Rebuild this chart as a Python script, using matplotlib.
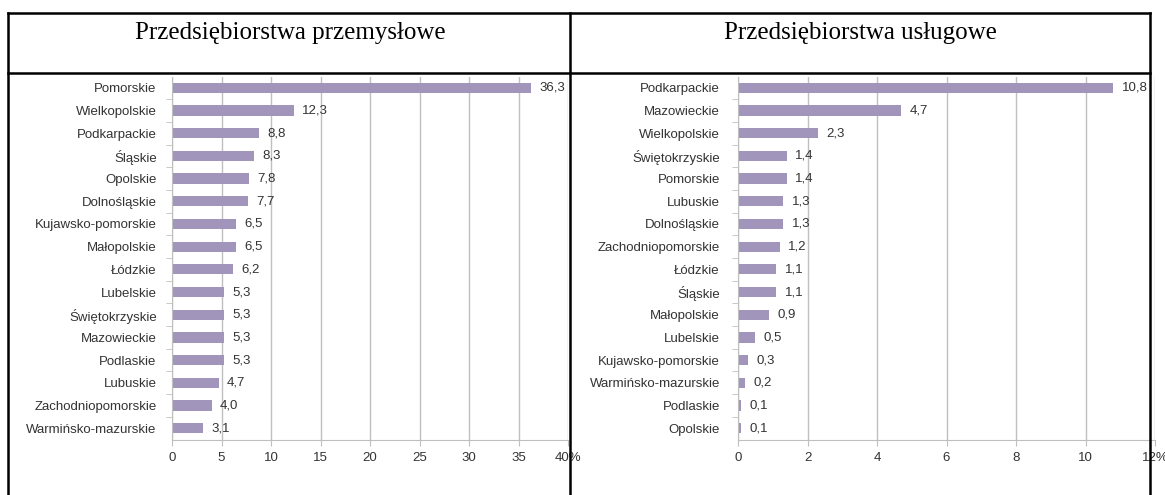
import matplotlib.pyplot as plt
from matplotlib.lines import Line2D

W, H = 1165, 495

# industrial enterprises
prz_regions = ['Pomorskie', 'Wielkopolskie', 'Podkarpackie', 'Śląskie', 'Opolskie',
               'Dolnośląskie', 'Kujawsko-pomorskie', 'Małopolskie', 'Łódzkie', 'Lubelskie',
               'Świętokrzyskie', 'Mazowieckie', 'Podlaskie', 'Lubuskie',
               'Zachodniopomorskie', 'Warmińsko-mazurskie']
prz_values = [36.3, 12.3, 8.8, 8.3, 7.8, 7.7, 6.5, 6.5, 6.2, 5.3, 5.3, 5.3, 5.3, 4.7, 4.0, 3.1]
prz_ticks = [0, 5, 10, 15, 20, 25, 30, 35, 40]

# service enterprises
usl_regions = ['Podkarpackie', 'Mazowieckie', 'Wielkopolskie', 'Świętokrzyskie', 'Pomorskie',
               'Lubuskie', 'Dolnośląskie', 'Zachodniopomorskie', 'Łódzkie', 'Śląskie',
               'Małopolskie', 'Lubelskie', 'Kujawsko-pomorskie', 'Warmińsko-mazurskie',
               'Podlaskie', 'Opolskie']
usl_values = [10.8, 4.7, 2.3, 1.4, 1.4, 1.3, 1.3, 1.2, 1.1, 1.1, 0.9, 0.5, 0.3, 0.2, 0.1, 0.1]
usl_ticks = [0, 2, 4, 6, 8, 10, 12]

titles = ['Przedsiębiorstwa przemysłowe', 'Przedsiębiorstwa usługowe']

BAR = '#a295bc'
GRID = '#bfbfbf'
TXT = '#333333'

plt.rcParams['font.family'] = ['Liberation Sans', 'DejaVu Sans']

fig = plt.figure(figsize=(W / 100, H / 100), dpi=100)


def px(x0, y0, x1, y1):
    return [x0 / W, 1 - y1 / H, (x1 - x0) / W, (y1 - y0) / H]


def draw_panel(rect, regions, values, ticks, ypad):
    ax = fig.add_axes(rect)
    pos = list(range(len(regions)))
    ax.barh(pos, values, height=0.45, color=BAR, zorder=2)
    ax.set_ylim(len(regions) - 0.5, -0.5)
    ax.set_xlim(ticks[0], ticks[-1])
    ax.set_yticks(pos)
    ax.set_yticklabels(regions)
    ax.set_yticks([p + 0.5 for p in pos[:-1]], minor=True)
    ax.set_xticks(ticks)
    ax.set_xticklabels([str(t) for t in ticks[:-1]] + [f'{ticks[-1]}%'])
    ax.grid(axis='x', color=GRID, linewidth=1, zorder=0)
    for s in ['top', 'right']:
        ax.spines[s].set_visible(False)
    for s in ['left', 'bottom']:
        ax.spines[s].set_color(GRID)
    ax.tick_params(axis='x', length=4, color=GRID, labelsize=9.5, labelcolor=TXT, pad=5)
    ax.tick_params(axis='y', which='major', length=0, labelsize=9.5, labelcolor=TXT, pad=ypad)
    ax.tick_params(axis='y', which='minor', length=4, color=GRID)
    for p, v in zip(pos, values):
        ax.annotate(f'{v:.1f}'.replace('.', ','), (v, p), xytext=(6, 0),
                    textcoords='offset points', va='center', ha='left',
                    fontsize=9.5, color=TXT)
    return ax


draw_panel(px(172, 76.5, 568, 439.5), prz_regions, prz_values, prz_ticks, 11)
draw_panel(px(738, 76.5, 1155, 439.5), usl_regions, usl_values, usl_ticks, 13)

# table borders
def hline(y, x0, x1):
    fig.add_artist(Line2D([x0 / W, x1 / W], [1 - y / H, 1 - y / H], color='black',
                          linewidth=1.8, zorder=10))


def vline(x, y0, y1):
    fig.add_artist(Line2D([x / W, x / W], [1 - y0 / H, 1 - y1 / H], color='black',
                          linewidth=1.8, zorder=10))


hline(13, 8, 1150)
hline(73, 8, 1150)
vline(8, 13, 495)
vline(570, 13, 495)
vline(1150, 13, 495)

fig.text(290 / W, 1 - 33 / H, titles[0], ha='center', va='center', fontsize=18,
         family=['Liberation Serif', 'DejaVu Serif'], color='black')
fig.text(860 / W, 1 - 33 / H, titles[1], ha='center', va='center', fontsize=18,
         family=['Liberation Serif', 'DejaVu Serif'], color='black')

fig.savefig('out.png', dpi=100)
